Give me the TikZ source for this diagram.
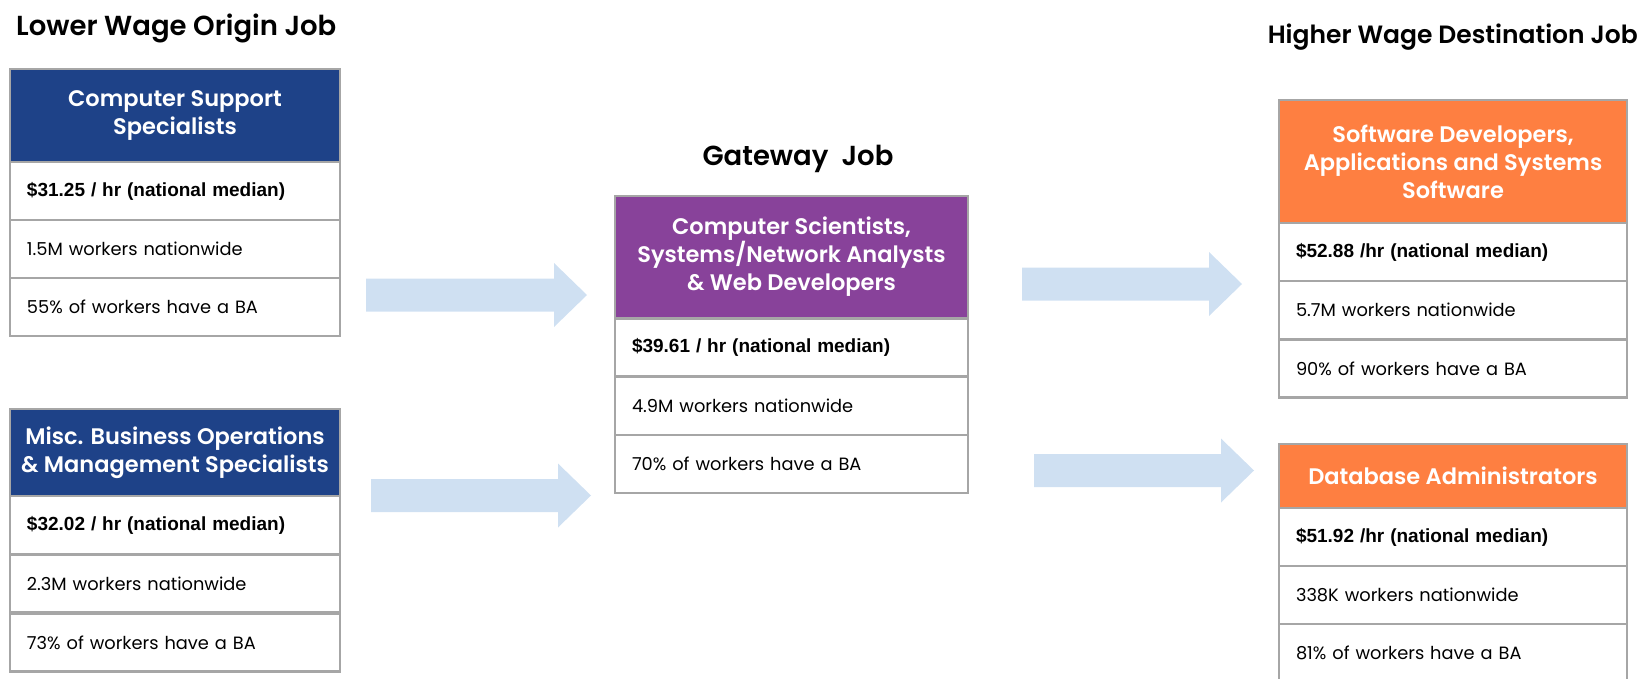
\documentclass[tikz,border=0pt]{standalone}
\usepackage{fontspec}
\setmainfont{Poppins}
\newfontfamily\headfont{Poppins}[UprightFont=* SemiBold]
\newfontfamily\wagefont{Liberation Sans}

\definecolor{navy}{HTML}{1E4288}
\definecolor{plum}{HTML}{88429A}
\definecolor{tangerine}{HTML}{FE7F41}
\definecolor{cellgrey}{HTML}{A6A6A6}
\definecolor{flowblue}{HTML}{CFE0F2}

% block arrow: shaft start x, tip x, centre y
\newcommand\flowarrow[3]{%
  \fill[flowblue] (#1,#3-16.5) -- (#2-33,#3-16.5) -- (#2-33,#3-32) -- (#2,#3)
    -- (#2-33,#3+32) -- (#2-33,#3+16.5) -- (#1,#3+16.5) -- cycle;}

\begin{document}
\begin{tikzpicture}[x=1pt,y=-1pt,
  title/.style={font=\headfont\fontsize{#1}{30}\selectfont, inner sep=0pt, text=black},
  head/.style={draw=cellgrey, line width=2.5pt, fill=#1, text=white, align=center,
    font=\headfont\fontsize{22.5}{28}\selectfont, inner sep=0pt},
  cell/.style={draw=cellgrey, line width=2.5pt, fill=white, align=left,
    inner xsep=17pt, inner ysep=0pt, text width=#1, minimum height=58pt,
    font=\fontsize{17.8}{21}\selectfont},
  wage/.style={font=\wagefont\bfseries\fontsize{19}{22}\selectfont}]

\useasboundingbox (0,0) rectangle (1641,679);

% column titles
\node[title=27.5, anchor=base west] (t-origin) at (16,36) {Lower Wage Origin Job};
\node[title=27.5, anchor=base] (t-gate) at (798,166) {Gateway\ \ Job};
\node[title=25, anchor=base east] (t-dest) at (1638,44) {Higher Wage Destination Job};

% origin job 1
\node[head=navy, minimum width=330pt, minimum height=93pt] (cs-h) at (175,115.5)
  {Computer Support\\Specialists};
\node[cell=296pt] (cs-1) at (175,191) {\wagefont\bfseries\fontsize{19}{22}\selectfont \$31.25 / hr (national median)};
\node[cell=296pt] (cs-2) at (175,249) {1.5M workers nationwide};
\node[cell=296pt] (cs-3) at (175,307) {55\% of workers have a BA};

% origin job 2
\node[head=navy, minimum width=330pt, minimum height=87pt] (mb-h) at (175,452.5)
  {Misc. Business Operations\\\& Management Specialists};
\node[cell=296pt] (mb-1) at (175,525) {\wagefont\bfseries\fontsize{19}{22}\selectfont \$32.02 / hr (national median)};
\node[cell=296pt] (mb-2) at (175,583.5) {2.3M workers nationwide};
\node[cell=296pt] (mb-3) at (175,642.5) {73\% of workers have a BA};

% gateway job
\node[head=plum, minimum width=353pt, minimum height=122pt] (gw-h) at (791.5,257)
  {Computer Scientists,\\Systems/Network Analysts\\\& Web Developers};
\node[cell=319pt] (gw-1) at (791.5,347.5) {\wagefont\bfseries\fontsize{19}{22}\selectfont \$39.61 / hr (national median)};
\node[cell=319pt] (gw-2) at (791.5,406) {4.9M workers nationwide};
\node[cell=319pt] (gw-3) at (791.5,464) {70\% of workers have a BA};

% destination job 1
\node[head=tangerine, minimum width=348pt, minimum height=123pt] (sd-h) at (1453,161.5)
  {Software Developers,\\Applications and Systems\\Software};
\node[cell=314pt] (sd-1) at (1453,252) {\wagefont\bfseries\fontsize{19}{22}\selectfont \$52.88 /hr (national median)};
\node[cell=314pt] (sd-2) at (1453,310) {5.7M workers nationwide};
\node[cell=314pt] (sd-3) at (1453,368.5) {90\% of workers have a BA};

% destination job 2
\node[head=tangerine, minimum width=348pt, minimum height=64pt] (db-h) at (1453,476)
  {Database Administrators};
\node[cell=314pt] (db-1) at (1453,537) {\wagefont\bfseries\fontsize{19}{22}\selectfont \$51.92 /hr (national median)};
\node[cell=314pt] (db-2) at (1453,595) {338K workers nationwide};
\node[cell=314pt] (db-3) at (1453,653) {81\% of workers have a BA};

% flow arrows
\flowarrow{366}{587}{295}
\flowarrow{371}{591}{495.5}
\flowarrow{1022}{1242}{284}
\flowarrow{1034}{1254}{470.5}
\end{tikzpicture}
\end{document}
